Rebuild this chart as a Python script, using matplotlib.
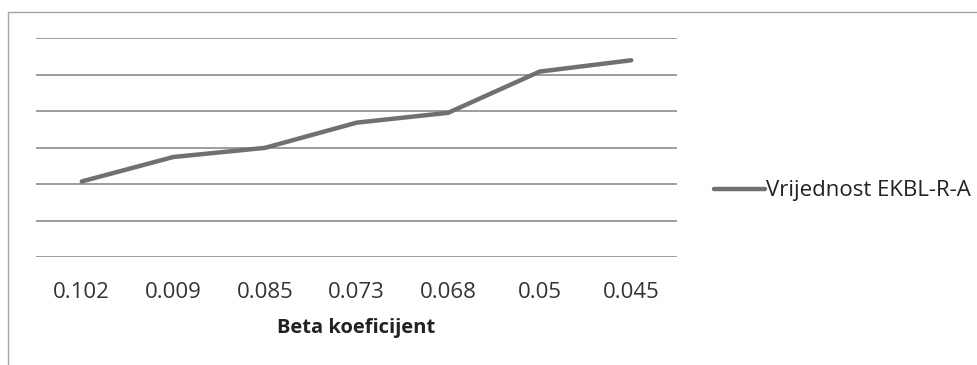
import matplotlib.pyplot as plt
from matplotlib.lines import Line2D
from matplotlib.patches import Rectangle

categories = ["0.102", "0.009", "0.085", "0.073", "0.068", "0.05", "0.045"]
values = [2.07, 2.74, 2.99, 3.68, 3.95, 5.08, 5.39]
series_name = "Vrijednost EKBL-R-A"

plt.rcParams['font.family'] = ['Open Sans', 'DejaVu Sans']

fig = plt.figure(figsize=(9.77, 3.65), dpi=100)

# outer chart frame (left and top edges visible)
fig.patches.append(Rectangle((8 / 977, -0.1), 1.2, (365 - 12) / 365 + 0.1,
                             transform=fig.transFigure, fill=False,
                             edgecolor='#a6a6a6', linewidth=1.0))

ax = fig.add_axes([36 / 977, (365 - 257) / 365, 641 / 977, 219 / 365])
x = range(len(categories))
ax.plot(x, values, color='#707070', linewidth=3.2, solid_capstyle='round',
        label=series_name, zorder=3)

ax.set_xlim(-0.5, len(categories) - 0.5)
ax.set_ylim(0, 6)
ax.set_yticks(range(0, 7))
ax.yaxis.grid(True, color='#8c8c8c', linewidth=1.2)
ax.set_yticklabels([])
ax.tick_params(axis='y', length=0)
ax.set_xticks(list(x))
ax.set_xticklabels(categories, fontsize=16, color='#333333')
ax.tick_params(axis='x', length=0, pad=18)
for s in ax.spines.values():
    s.set_visible(False)
ax.set_xlabel("Beta koeficijent", fontsize=14.5, fontweight='bold',
              color='#222222', labelpad=11)

handle = Line2D([], [], color='#707070', linewidth=3.2, solid_capstyle='round')
fig.legend([handle], [series_name], loc='center left',
           bbox_to_anchor=(694 / 977, 1 - 191 / 365), frameon=False,
           fontsize=16, handlelength=2.3, handletextpad=0.05,
           labelcolor='#222222')

fig.savefig("out.png", dpi=100, facecolor='white')
